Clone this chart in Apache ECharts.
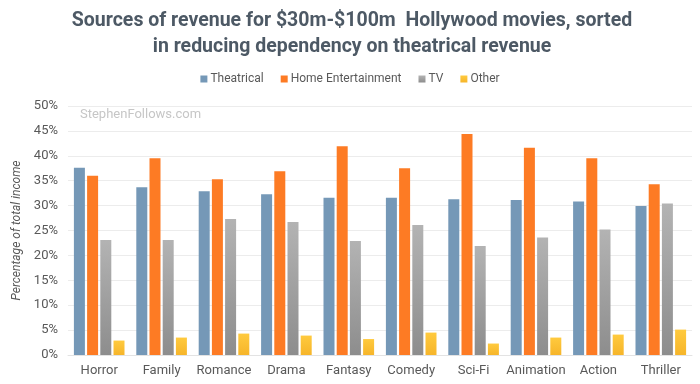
<!DOCTYPE html>
<html>
<head>
<meta charset="utf-8">
<script src="https://cdn.jsdelivr.net/npm/echarts@6/dist/echarts.min.js"></script>
<style>html,body{margin:0;padding:0;background:#fff}#c{width:700px;height:384px}</style>
</head>
<body>
<div id="c"></div>
<script>
var categories = ['Horror','Family','Romance','Drama','Fantasy','Comedy','Sci-Fi','Animation','Action','Thriller'];
var theatrical = [37.6, 33.7, 32.9, 32.3, 31.6, 31.6, 31.3, 31.1, 30.8, 29.9];
var homeEnt    = [36.0, 39.5, 35.3, 36.9, 41.9, 37.5, 44.4, 41.6, 39.5, 34.3];
var tv         = [23.1, 23.1, 27.3, 26.7, 22.9, 26.1, 21.9, 23.6, 25.2, 30.4];
var other      = [2.9, 3.5, 4.3, 3.9, 3.2, 4.5, 2.3, 3.5, 4.1, 5.1];
var yTicks = [0, 5, 10, 15, 20, 25, 30, 35, 40, 45, 50];

var chart = echarts.init(document.getElementById('c'), null, {renderer:'canvas'});
var grad = function(a,b){ return new echarts.graphic.LinearGradient(0,0,0,1,[{offset:0,color:a},{offset:1,color:b}]); };
var font = 'Roboto';
chart.setOption({
  animation:false,
  title:{
    text:'Sources of revenue for $30m-$100m  Hollywood movies, sorted\nin reducing dependency on theatrical revenue',
    left:347, textAlign:'center', top:3,
    textStyle:{fontFamily:font, fontSize:19.5, fontWeight:'bold', color:'#4d5965', lineHeight:26}
  },
  legend:{
    top:68, left:'center', itemWidth:7, itemHeight:7, itemGap:17,
    icon:'rect',
    textStyle:{fontFamily:font, fontSize:12, color:'#595959', padding:[0,0,0,-2]},
    data:['Theatrical','Home Entertainment','TV','Other']
  },
  graphic:[{type:'text', left:80, top:108, style:{text:'StephenFollows.com', fill:'#c6c6c6', font:'13px Roboto'}}],
  grid:{left:68, right:8, top:106, bottom:29, containLabel:false},
  xAxis:{
    type:'category', data:categories,
    axisLine:{lineStyle:{color:'#e3e3e3'}}, axisTick:{show:false},
    axisLabel:{interval:0, fontFamily:font, fontSize:13, color:'#595959', margin:9}
  },
  yAxis:{
    type:'value', min:yTicks[0], max:yTicks[yTicks.length-1], interval:5,
    name:'Percentage of total income', nameLocation:'middle', nameGap:44,
    nameTextStyle:{fontFamily:font, fontSize:12, fontStyle:'italic', color:'#595959'},
    axisLabel:{fontFamily:font, fontSize:13, color:'#595959', margin:10, formatter:function(v){return v+'%';}},
    splitLine:{lineStyle:{color:'#ececec'}},
    axisLine:{show:false}, axisTick:{show:false}
  },
  series:[
    {name:'Theatrical', type:'bar', data:theatrical, barWidth:11, barGap:'20%', barCategoryGap:'19%', itemStyle:{color:'#7598b7'}},
    {name:'Home Entertainment', type:'bar', data:homeEnt, barWidth:11, barGap:'20%', itemStyle:{color:'#fd7b24'}},
    {name:'TV', type:'bar', data:tv, barWidth:11, barGap:'20%', itemStyle:{color:grad('#b3b3b3','#8d8d8d')}},
    {name:'Other', type:'bar', data:other, barWidth:11, barGap:'20%', itemStyle:{color:grad('#ffca3e','#f6b52a')}}
  ]
});
</script>
</body>
</html>
